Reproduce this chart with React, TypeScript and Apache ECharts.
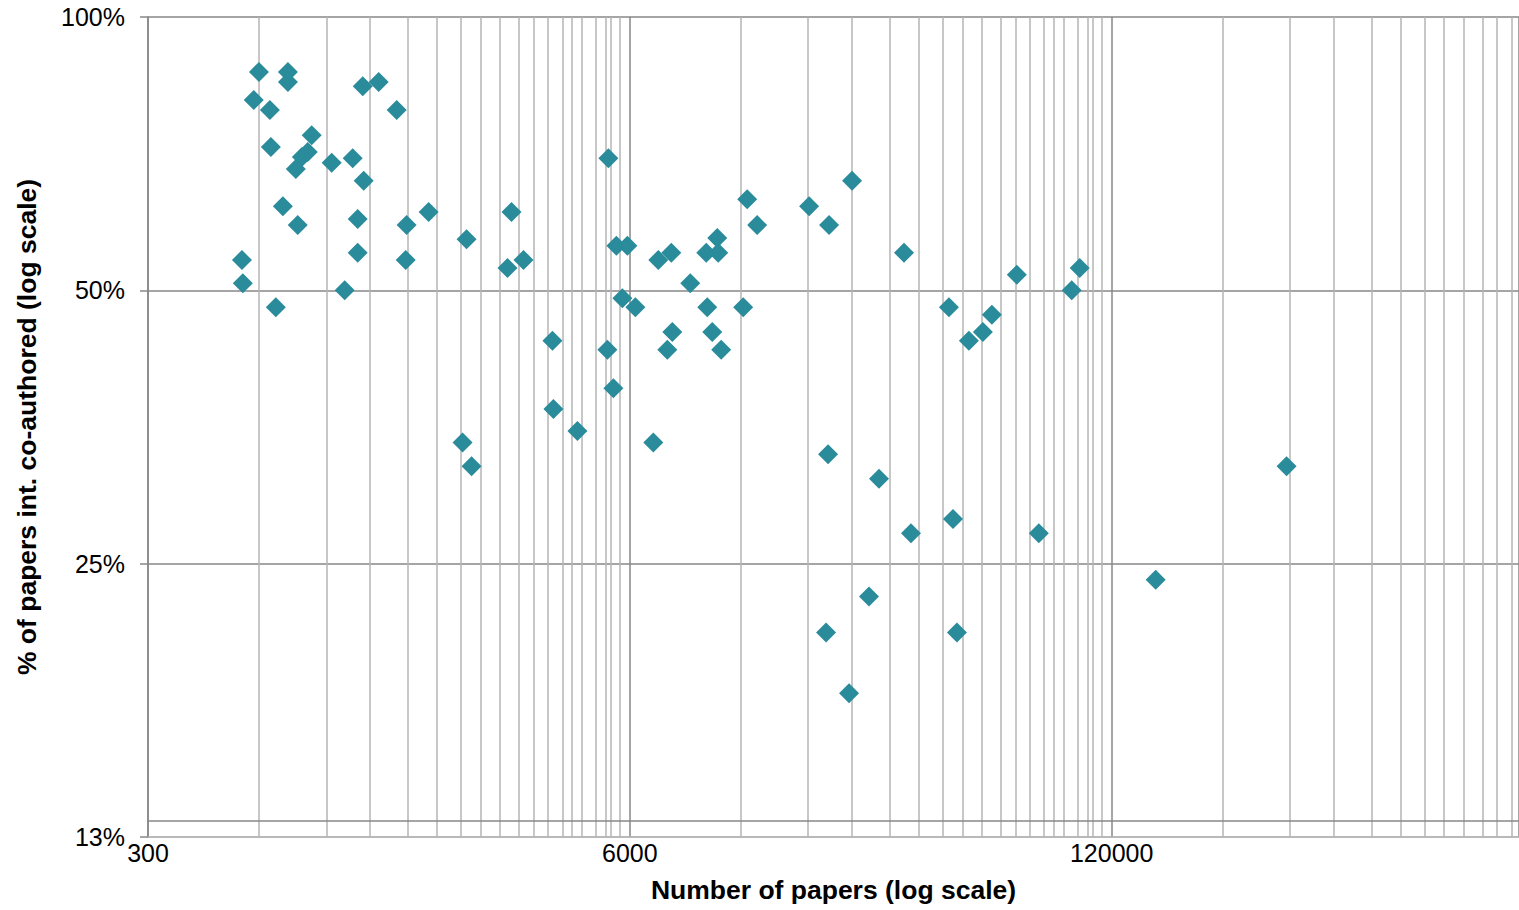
import React, { useEffect, useRef } from "react";
import * as echarts from "echarts";

// Number of papers (x, log scale base 20 starting at 300)
const PAPERS = [
  598, 716, 716, 579, 640, 1140, 1259, 1408, 644, 830,
  810, 781, 752, 940, 1071, 1147, 694, 761, 1105, 1498,
  1717, 2174, 538, 541, 1105, 1489, 1019, 664, 5251, 2875,
  5518, 5908, 2804, 3098, 7162, 7764, 9648, 10330, 10394, 12444,
  13241, 8736, 5728, 6209, 9708, 12139, 7812, 10014, 7573, 10589,
  3708, 5218, 5417, 3731, 4331, 6943, 2121, 2243, 18288, 20706,
  23884, 32988, 66531, 98370, 93600, 43630, 56970, 53880, 49390, 20578,
  28246, 34453, 44740, 76290, 26542, 20325, 45850, 23446, 355990, 157780,
];

// % of papers internationally co-authored (y, log scale base 2)
const SHARE = [
  87.0, 87.0, 84.8, 81.0, 79.0, 83.9, 84.8, 79.0, 71.9, 74.1,
  71.0, 70.1, 68.0, 69.1, 69.9, 66.0, 61.9, 59.0, 59.9, 59.0,
  61.0, 56.9, 54.0, 50.9, 55.0, 54.0, 50.0, 47.9, 69.9, 61.0,
  56.0, 56.0, 52.9, 54.0, 54.0, 55.0, 55.0, 57.1, 55.0, 63.0,
  59.0, 50.9, 49.0, 47.9, 47.9, 47.9, 45.0, 45.0, 43.0, 43.0,
  44.0, 43.0, 39.0, 37.0, 35.0, 34.0, 34.0, 32.0, 61.9, 59.0,
  66.0, 55.0, 52.0, 52.9, 50.0, 47.9, 47.0, 45.0, 44.0, 33.0,
  31.0, 27.0, 28.0, 27.0, 23.0, 21.0, 21.0, 18.0, 32.0, 24.0,
];

// Axis definitions
const X_MIN = 300;
const X_BASE = 20;
const X_MAX = 1510000;
const Y_MIN = 12.5;
const Y_BASE = 2;
const Y_MAX = 100;
const X_DECADES = [300, 6000, 120000];
const MINOR_MULTIPLIERS = [2, 3, 4, 5, 6, 7, 8, 9, 10, 11, 12, 13, 14, 15, 16, 17, 18, 19];
const Y_AXIS_CROSS = 13; // horizontal axis line drawn at 13%

const X_TITLE = "Number of papers (log scale)";
const Y_TITLE = "% of papers int. co-authored (log scale)";

const tx = (n: number) => Math.log(n / X_MIN) / Math.log(X_BASE);
const ty = (p: number) => Math.log(p / Y_MIN) / Math.log(Y_BASE);

const FONT = "'Liberation Sans', Arial, sans-serif";
const DARK = "#878787";
const LIGHT = "#b5b5b5";
const MARK = "#2A8B9B";

export default function App() {
  const ref = useRef<HTMLDivElement>(null);

  useEffect(() => {
    if (!ref.current) return;
    const chart = echarts.init(ref.current, undefined, { renderer: "svg" });

    const minorX: number[] = [];
    X_DECADES.forEach((d) => {
      MINOR_MULTIPLIERS.forEach((k) => {
        const v = d * k;
        if (v < X_MAX) minorX.push(tx(v));
      });
    });

    const points = PAPERS.map((n, i) => [tx(n), ty(SHARE[i])]);

    chart.setOption({
      animation: false,
      backgroundColor: "#ffffff",
      grid: { left: 148, right: -2, top: 17, bottom: 73 },
      xAxis: {
        type: "value",
        min: 0,
        max: tx(X_MAX),
        interval: 1,
        name: X_TITLE,
        nameLocation: "middle",
        nameGap: 39,
        nameTextStyle: { fontFamily: FONT, fontSize: 26.5, fontWeight: "bold", color: "#000" },
        axisLine: { show: true, lineStyle: { color: LIGHT, width: 1.5 } },
        axisTick: { show: false },
        axisLabel: {
          fontFamily: FONT,
          fontSize: 25,
          color: "#000",
          margin: 3,
          showMaxLabel: false,
          formatter: (v: number) =>
            Math.abs(v - Math.round(v)) < 1e-6 ? String(Math.round(X_MIN * Math.pow(X_BASE, v))) : "",
        },
        splitLine: { show: true, lineStyle: { color: DARK, width: 1.5 } },
      },
      yAxis: {
        type: "value",
        min: 0,
        max: ty(Y_MAX),
        interval: 1,
        name: Y_TITLE,
        nameLocation: "middle",
        nameRotate: 90,
        nameGap: 108,
        nameTextStyle: { fontFamily: FONT, fontSize: 26.5, fontWeight: "bold", color: "#000" },
        axisLine: { show: true, lineStyle: { color: DARK, width: 1.5 } },
        axisTick: { show: true, length: 8, lineStyle: { color: DARK, width: 1.5 } },
        axisLabel: {
          fontFamily: FONT,
          fontSize: 25,
          color: "#000",
          margin: 23,
          formatter: (v: number) => Math.round(Y_MIN * Math.pow(Y_BASE, v)) + "%",
        },
        splitLine: { show: true, lineStyle: { color: [LIGHT, DARK, DARK, DARK], width: 1.5 } },
      },
      series: [
        {
          type: "line",
          data: [],
          z: 1,
          silent: true,
          markLine: {
            silent: true,
            symbol: ["none", "none"],
            label: { show: false },
            emphasis: { disabled: true },
            animation: false,
            lineStyle: { color: LIGHT, width: 1.5, type: "solid" },
            data: [
              ...minorX.map((v) => ({ xAxis: v })),
              { yAxis: ty(Y_AXIS_CROSS), lineStyle: { color: DARK, width: 1.5, type: "solid" } },
            ],
          },
        },
        {
          type: "scatter",
          z: 5,
          symbol: "diamond",
          symbolSize: 20,
          itemStyle: { color: MARK, opacity: 1 },
          data: points,
        },
      ],
    });

    return () => chart.dispose();
  }, []);

  return (
    <div
      ref={ref}
      style={{ position: "fixed", left: 0, top: 0, width: 1519, height: 910, background: "#fff" }}
    />
  );
}
